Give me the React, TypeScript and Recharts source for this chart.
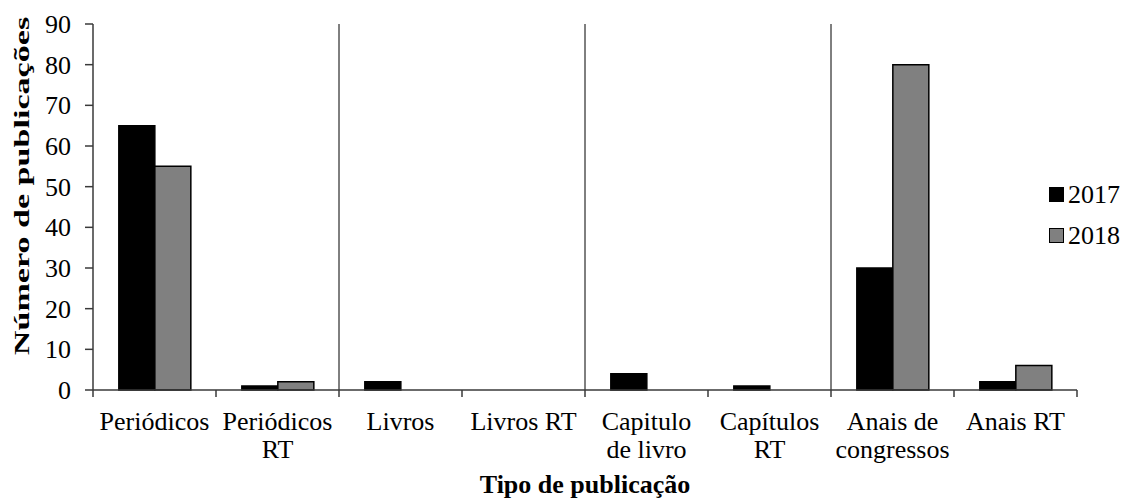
import React from "react";
import { BarChart, Bar, XAxis, YAxis, ReferenceLine, Label } from "recharts";

// category labels, split the way they wrap under the axis
const categoryLines = [
  ["Periódicos"],
  ["Periódicos", "RT"],
  ["Livros"],
  ["Livros RT"],
  ["Capitulo", "de livro"],
  ["Capítulos", "RT"],
  ["Anais de", "congressos"],
  ["Anais RT"],
];
const categories = categoryLines.map((l) => l.join(" "));

const values2017 = [65, 1, 2, 0, 4, 1, 30, 2];
const values2018 = [55, 2, 0, 0, 0, 0, 80, 6];

const yTicks = [0, 10, 20, 30, 40, 50, 60, 70, 80, 90];

// vertical dividers sit at the start of these categories
const dividerAt = ["Livros", "Capitulo de livro", "Anais de congressos"];

const seriesNames = ["2017", "2018"];
const seriesColors = ["#000000", "#808080"];

const FONT = '"Liberation Serif", "Times New Roman", serif';
const AXIS = "#3a3a3a";
const Y_AXIS_W = 93;

const chartData = categories.map((name, i) => ({
  name,
  y2017: values2017[i],
  y2018: values2018[i],
}));

const CategoryTick = (props: any) => {
  const { x, y, payload } = props;
  const idx = categories.indexOf(payload.value);
  const lines = categoryLines[idx] || [payload.value];
  const half = payload.offset ?? 61.5;
  return (
    <g>
      <line x1={x - half} x2={x - half} y1={y} y2={y + 7} stroke={AXIS} strokeWidth={1.5} />
      {idx === categories.length - 1 && (
        <line x1={x + half} x2={x + half} y1={y} y2={y + 7} stroke={AXIS} strokeWidth={1.5} />
      )}
      <text x={x} y={y + 40} textAnchor="middle" fontSize={26} fontFamily={FONT} fill="#000">
        {lines.map((l, i) => (
          <tspan key={i} x={x} dy={i === 0 ? 0 : 28}>
            {l}
          </tspan>
        ))}
      </text>
    </g>
  );
};

// value labels right-aligned a fixed distance left of the axis line
const ValueTick = (props: any) => {
  const { y, payload } = props;
  return (
    <text x={Y_AXIS_W - 22} y={y} dy={9} textAnchor="end" fontSize={26} fontFamily={FONT} fill="#000">
      {payload.value}
    </text>
  );
};

const YTitle = (props: any) => {
  const vb = props.viewBox || { x: 0, y: 24, width: 93, height: 366 };
  const cx = 29;
  const cy = vb.y + vb.height / 2 - 21;
  return (
    <text
      transform={`translate(${cx}, ${cy}) rotate(-90) scale(1.55, 1)`}
      textAnchor="middle"
      fontSize={22}
      fontWeight="bold"
      fontFamily={FONT}
      fill="#000"
    >
      Número de publicações
    </text>
  );
};

const XTitle = (props: any) => {
  const vb = props.viewBox || { x: 93, y: 390, width: 984, height: 112 };
  return (
    <text
      x={vb.x + vb.width / 2}
      y={vb.y + 103}
      textAnchor="middle"
      fontSize={26}
      fontWeight="bold"
      fontFamily={FONT}
      fill="#000"
    >
      Tipo de publicação
    </text>
  );
};

// legend drawn as a plain overlay so it doesn't eat into the plot area
const LegendBox = () => (
  <div
    style={{
      position: "absolute",
      left: 1049,
      top: 174,
      fontFamily: FONT,
      fontSize: 26,
      lineHeight: "41px",
    }}
  >
    {seriesNames.map((s, i) => (
      <div key={s} style={{ display: "flex", alignItems: "center" }}>
        <span
          style={{
            display: "inline-block",
            width: 13,
            height: 13,
            background: seriesColors[i],
            border: "1.5px solid #000",
            marginRight: 4,
          }}
        />
        <span>{s}</span>
      </div>
    ))}
  </div>
);

export default function App() {
  return (
    <div style={{ position: "absolute", left: 0, top: 0, width: 1124, height: 502, background: "#fff" }}>
      <BarChart
        width={1124}
        height={502}
        data={chartData}
        margin={{ top: 24, right: 47, left: 0, bottom: 0 }}
        barCategoryGap="21%"
        barGap={0}
      >
        <XAxis
          dataKey="name"
          height={112}
          interval={0}
          tickLine={false}
          tickSize={0}
          tickMargin={0}
          axisLine={{ stroke: AXIS, strokeWidth: 1.5 }}
          tick={<CategoryTick />}
        >
          <Label content={<XTitle />} />
        </XAxis>
        <YAxis
          width={Y_AXIS_W}
          domain={[0, 90]}
          ticks={yTicks}
          interval={0}
          tickSize={8}
          axisLine={{ stroke: AXIS, strokeWidth: 1.5 }}
          tickLine={{ stroke: AXIS, strokeWidth: 1.5 }}
          tick={<ValueTick />}
        >
          <Label content={<YTitle />} />
        </YAxis>
        {dividerAt.map((c) => (
          <ReferenceLine key={c} x={c} position="start" stroke="#000" strokeWidth={1} />
        ))}
        <Bar dataKey="y2017" name={seriesNames[0]} fill={seriesColors[0]} stroke="#000" strokeWidth={1.5} isAnimationActive={false} />
        <Bar dataKey="y2018" name={seriesNames[1]} fill={seriesColors[1]} stroke="#000" strokeWidth={1.5} isAnimationActive={false} />
      </BarChart>
      <LegendBox />
    </div>
  );
}
